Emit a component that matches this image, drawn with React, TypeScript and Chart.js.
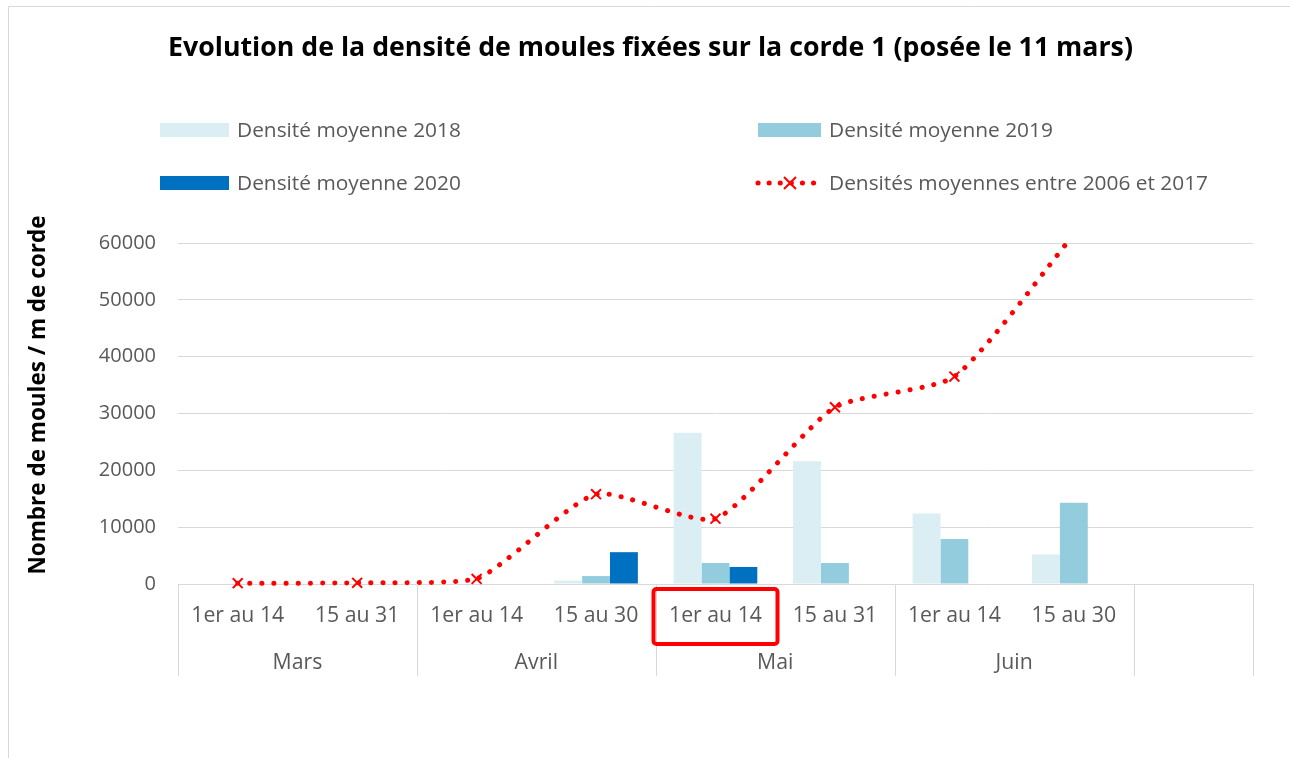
import React, { useEffect, useRef } from "react";
import { Chart, registerables } from "chart.js";

Chart.register(...registerables);

const title = "Evolution de la densité de moules fixées sur la corde 1 (posée le 11 mars)";
const yAxisTitle = "Nombre de moules / m de corde";
const periods = ["1er au 14", "15 au 31", "1er au 14", "15 au 30", "1er au 14", "15 au 31", "1er au 14", "15 au 30", ""];
const months = ["Mars", "Avril", "Mai", "Juin", ""];
const monthSpans = [2, 2, 2, 2, 1];
const series2018 = [null, null, null, 600, 26600, 21600, 12400, 5200, null];
const series2019 = [null, null, null, 1400, 3700, 3700, 7900, 14300, null];
const series2020 = [null, null, null, 5600, 3000, null, null, null, null];
const mean2006_2017 = [150, 200, 900, 15800, 11500, 31100, 36500, 61500, null];
const yTicks = [0, 10000, 20000, 30000, 40000, 50000, 60000];
const highlightedIndex = 4;

const labelNames = ["Densité moyenne 2018", "Densité moyenne 2019", "Densité moyenne 2020", "Densités moyennes entre 2006 et 2017"];
const colors = ["#DAEEF3", "#93CDDD", "#0070C0", "#FF0000"];

const FONT = "'Open Sans', Lato, 'Noto Sans', 'DejaVu Sans', sans-serif";
const TEXT = "#595959";
const GRID = "#D9D9D9";

function fitSize(ctx: CanvasRenderingContext2D, text: string, weight: string, target: number) {
  ctx.font = `${weight} 20px ${FONT}`;
  const w = ctx.measureText(text).width;
  return (20 * target) / w;
}

const decorPlugin = {
  id: "decor",
  afterDraw(chart: any) {
    const ctx = chart.ctx as CanvasRenderingContext2D;
    const area = chart.chartArea;
    const x = chart.scales.x;
    ctx.save();
    // outer frame
    ctx.strokeStyle = GRID;
    ctx.lineWidth = 1;
    ctx.beginPath();
    ctx.moveTo(8.5, 758);
    ctx.lineTo(8.5, 6.5);
    ctx.lineTo(1290, 6.5);
    ctx.stroke();

    // title
    const ts = fitSize(ctx, title, "bold", 965);
    ctx.fillStyle = "#000000";
    ctx.font = `bold ${ts}px ${FONT}`;
    ctx.textAlign = "center";
    ctx.textBaseline = "middle";
    ctx.fillText(title, 650.5, 48.5);

    // legend
    const ls = fitSize(ctx, labelNames[0], "normal", 224);
    ctx.font = `${ls}px ${FONT}`;
    ctx.textAlign = "left";
    const items = [
      { sx: 160, ex: 229, y: 130, tx: 237, i: 0 },
      { sx: 758, ex: 821, y: 130, tx: 829, i: 1 },
      { sx: 160, ex: 229, y: 183, tx: 237, i: 2 },
    ];
    for (const it of items) {
      ctx.fillStyle = colors[it.i];
      ctx.fillRect(it.sx, it.y - 7, it.ex - it.sx, 14);
      ctx.fillStyle = TEXT;
      ctx.fillText(labelNames[it.i], it.tx, it.y + 1);
    }
    // line legend
    ctx.strokeStyle = colors[3];
    ctx.lineWidth = 5;
    ctx.lineCap = "round";
    ctx.setLineDash([0.1, 11]);
    ctx.beginPath();
    ctx.moveTo(758, 183);
    ctx.lineTo(820, 183);
    ctx.stroke();
    ctx.setLineDash([]);
    ctx.lineWidth = 2;
    ctx.lineCap = "butt";
    ctx.beginPath();
    ctx.moveTo(784, 177);
    ctx.lineTo(796, 189);
    ctx.moveTo(796, 177);
    ctx.lineTo(784, 189);
    ctx.stroke();
    ctx.fillStyle = TEXT;
    ctx.fillText(labelNames[3], 829, 184);

    // y axis title
    const ys = fitSize(ctx, yAxisTitle, "bold", 359);
    ctx.save();
    ctx.translate(39, 395);
    ctx.rotate(-Math.PI / 2);
    ctx.fillStyle = "#000000";
    ctx.font = `bold ${ys}px ${FONT}`;
    ctx.textAlign = "center";
    ctx.fillText(yAxisTitle, 0, 0);
    ctx.restore();

    // multi-level x axis
    const n = periods.length;
    const step = (area.right - area.left) / n;
    const bottom = area.bottom + 92;
    ctx.strokeStyle = GRID;
    ctx.lineWidth = 1;
    let idx = 0;
    const bounds: number[] = [0];
    for (const s of monthSpans) {
      idx += s;
      bounds.push(idx);
    }
    ctx.beginPath();
    for (const b of bounds) {
      const px = Math.round(area.left + b * step) + 0.5;
      ctx.moveTo(px, area.bottom);
      ctx.lineTo(px, bottom);
    }
    ctx.stroke();
    const cs = fitSize(ctx, periods[0], "normal", 93);
    ctx.fillStyle = TEXT;
    ctx.font = `${cs}px ${FONT}`;
    ctx.textAlign = "center";
    for (let i = 0; i < n; i++) {
      if (!periods[i]) continue;
      ctx.fillText(periods[i], x.getPixelForValue(i), area.bottom + 32);
    }
    for (let m = 0; m < months.length; m++) {
      if (!months[m]) continue;
      const cx = area.left + ((bounds[m] + bounds[m + 1]) / 2) * step;
      ctx.fillText(months[m], cx, area.bottom + 79);
    }

    // highlight box
    const hx = x.getPixelForValue(highlightedIndex);
    ctx.strokeStyle = "#FF0000";
    ctx.lineWidth = 4;
    ctx.beginPath();
    (ctx as any).roundRect(hx - 62, area.bottom + 5, 124, 55, 3);
    ctx.stroke();
    ctx.restore();
  },
};

export default function App() {
  const ref = useRef<HTMLCanvasElement>(null);
  useEffect(() => {
    if (!ref.current) return;
    const chart = new Chart(ref.current, {
      type: "bar",
      data: {
        labels: periods,
        datasets: [
          { type: "bar", label: labelNames[0], data: series2018, backgroundColor: colors[0], order: 1, categoryPercentage: 0.7, barPercentage: 1 } as any,
          { type: "bar", label: labelNames[1], data: series2019, backgroundColor: colors[1], order: 1, categoryPercentage: 0.7, barPercentage: 1 } as any,
          { type: "bar", label: labelNames[2], data: series2020, backgroundColor: colors[2], order: 1, categoryPercentage: 0.7, barPercentage: 1 } as any,
          {
            type: "line",
            label: labelNames[3],
            data: mean2006_2017,
            borderColor: colors[3],
            borderWidth: 5,
            borderDash: [0.1, 12],
            borderCapStyle: "round",
            tension: 0.2,
            pointStyle: "crossRot",
            pointRadius: 7,
            pointBorderWidth: 2,
            pointBorderColor: colors[3],
            pointBackgroundColor: colors[3],
            order: 0,
            clip: { left: 20, right: 20, bottom: 20, top: 0 },
          } as any,
        ],
      },
      options: {
        responsive: false,
        animation: false,
        devicePixelRatio: 1,
        layout: { padding: { top: 243, right: 37, left: 0, bottom: 0 } },
        plugins: { legend: { display: false }, title: { display: false }, tooltip: { enabled: false } },
        scales: {
          x: {
            grid: { display: false },
            border: { display: false },
            ticks: { display: false },
            afterFit: (s: any) => { s.height = 174; },
          },
          y: {
            min: 0,
            max: 60000,
            afterBuildTicks: (s: any) => { s.ticks = yTicks.map((v) => ({ value: v })); },
            ticks: { color: TEXT, font: { family: FONT, size: 20 }, padding: 22, callback: (v: any) => String(v) },
            grid: { color: GRID, lineWidth: 1, drawTicks: false },
            border: { display: false },
            afterFit: (s: any) => { s.width = 178; },
          },
        },
      },
      plugins: [decorPlugin],
    } as any);
    return () => chart.destroy();
  }, []);
  return (
    <canvas
      ref={ref}
      width={1290}
      height={758}
      style={{ position: "fixed", left: 0, top: 0, width: 1290, height: 758 }}
    />
  );
}
